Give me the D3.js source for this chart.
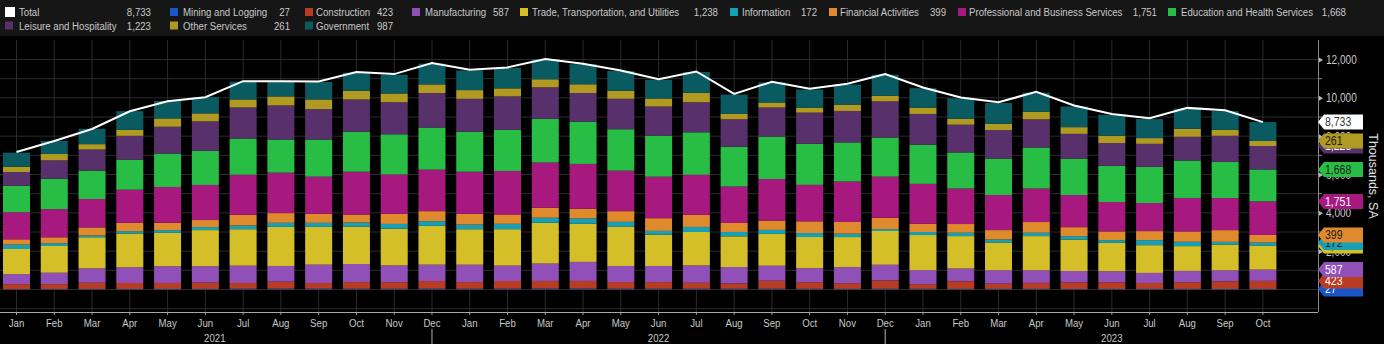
<!DOCTYPE html>
<html>
<head>
<meta charset="utf-8">
<script src="https://cdn.jsdelivr.net/npm/d3@7"></script>
<style>
  html, body { margin: 0; padding: 0; background: #000; }
  svg { display: block; }
</style>
</head>
<body>
<svg id="chart"></svg>
<script>
/* Job openings by industry, stacked monthly bars + total line */

const periods = [
  "2021-01","2021-02","2021-03","2021-04","2021-05","2021-06","2021-07","2021-08","2021-09","2021-10","2021-11","2021-12",
  "2022-01","2022-02","2022-03","2022-04","2022-05","2022-06","2022-07","2022-08","2022-09","2022-10","2022-11","2022-12",
  "2023-01","2023-02","2023-03","2023-04","2023-05","2023-06","2023-07","2023-08","2023-09","2023-10"
]
const monthLabels = ["Jan","Feb","Mar","Apr","May","Jun","Jul","Aug","Sep","Oct","Nov","Dec"]
const yearLabels = ["2021", "2022", "2023"]
const yTicks = [2000, 4000, 6000, 8000, 10000, 12000]

const total = [7172,7748,8376,9301,9824,10034,10871,10871,10854,11343,11238,11814,
  11465,11587,12023,11779,11430,10976,11377,10208,10837,10470,10732,11238,
  10540,10017,9772,10313,9598,9161,8934,9476,9353,8733]

const mining = [18,20,22,25,27,28,40,42,40,38,35,40,38,42,45,45,40,38,36,35,38,33,30,35,33,30,28,30,25,28,27,30,26,27]
const construction = [262,262,330,314,314,332,297,366,297,349,349,401,349,401,401,401,349,349,314,279,419,349,297,436,244,401,279,314,349,349,314,349,401,423]
const manufacturing = [524,593,750,820,873,855,907,820,960,942,873,855,907,803,907,995,838,838,907,855,785,733,838,820,733,663,698,663,593,576,524,593,576,587]
const trade = [1309,1396,1623,1762,1745,1885,1902,2042,1972,1954,1920,2024,1850,1902,2129,1989,2059,1640,1745,1605,1658,1623,1571,1762,1832,1693,1448,1780,1640,1483,1448,1291,1344,1238]
const information = [227,140,95,122,140,157,192,209,209,209,244,244,244,279,262,279,244,192,262,227,209,209,175,95,157,175,157,175,175,140,262,227,140,172]
const financial = [279,314,419,436,384,366,558,506,471,419,524,524,558,489,524,506,558,663,628,471,489,611,611,593,436,454,489,558,471,454,471,541,611,399]
const professional = [1413,1466,1483,1728,1867,1832,2094,2111,1937,2234,2059,2164,2199,2269,2356,2338,2111,2164,2094,1902,2164,1902,2111,2146,2077,1850,1832,1745,1675,1536,1466,1745,1675,1751]
const education = [1379,1588,1483,1571,1745,1780,1885,1728,1937,2094,2094,2199,2094,2146,2286,2199,2164,2146,2216,2077,2216,2146,2042,2042,2042,1885,1902,2146,1902,1885,1885,1954,1885,1668]
const leisure = [715,960,1099,1239,1396,1536,1623,1780,1588,1675,1675,1797,1710,1745,1640,1501,1588,1518,1570,1431,1518,1623,1640,1885,1605,1448,1483,1466,1291,1187,1204,1239,1361,1223]
const otherServices = [279,332,279,314,436,419,419,471,506,454,454,454,454,419,419,454,419,419,489,279,262,262,332,297,332,314,332,401,349,384,297,419,314,261]
const government = [733,680,803,977,907,855,925,768,907,942,977,1082,1030,1065,1030,1047,1030,977,1082,1012,1047,942,1047,1099,1012,1065,1082,995,1082,1099,995,1047,977,987]

const seriesNames = ["Mining and Logging","Construction","Manufacturing","Trade, Transportation, and Utilities",
  "Information","Financial Activities","Professional and Business Services","Education and Health Services",
  "Leisure and Hospitality","Other Services","Government"]
const seriesValues = [mining, construction, manufacturing, trade, information, financial,
  professional, education, leisure, otherServices, government]
const seriesColors = ["#1a56c8","#b83c24","#9050b8","#d5bf28","#17a0b5","#e08a2e",
  "#a8197f","#28bd45","#58306b","#b09a22","#0a5a62"]

const W = 1384, H = 344
const plot = {left: 0, right: 1318, top: 40, bottom: 312}
const FONT = '"Liberation Sans", Arial, sans-serif'
const SQUEEZE = 0.84          // horizontal squeeze to get a narrow face
const textColor = "#c8c8c8"
const gridColor = "#2b2b2b"

const svg = d3.select("#chart").attr("width", W).attr("height", H)
  .style("font-family", FONT)

svg.append("rect").attr("width", W).attr("height", H).attr("fill", "#000")
svg.append("rect").attr("width", W).attr("height", 36).attr("fill", "#161616")

// narrow text helper
function ntext(parent, px, py, str, size, fill, anchor) {
  return parent.append("text")
    .attr("transform", `translate(${px},${py}) scale(${SQUEEZE},1)`)
    .attr("text-anchor", anchor || "start")
    .attr("dominant-baseline", "central")
    .attr("fill", fill)
    .style("font-size", size + "px")
    .text(str)
}

// rows for d3.stack
const table = periods.map((p, i) => {
  const row = {period: p}
  seriesNames.forEach((n, k) => row[n] = seriesValues[k][i])
  return row
})
const stacked = d3.stack().keys(seriesNames)(table)

const step = 37.77
const x = d3.scaleBand()
  .domain(periods)
  .range([16.5 - step / 2, 16.5 - step / 2 + step * periods.length])
  .paddingInner(0.285)
  .paddingOuter(0.1425)
const cx = p => x(p) + x.bandwidth() / 2

const y = d3.scaleLinear().domain([0, 12000]).range([289.5, 59.5])

// grid
const grid = svg.append("g")
grid.selectAll("line.h")
  .data(d3.range(-1000, 13000, 1000).filter(v => y(v) > plot.top + 2 && y(v) < plot.bottom))
  .enter().append("line")
  .attr("x1", plot.left).attr("x2", plot.right)
  .attr("y1", d => y(d)).attr("y2", d => y(d))
  .attr("stroke", gridColor)
grid.selectAll("line.v")
  .data(periods)
  .enter().append("line")
  .attr("x1", cx).attr("x2", cx)
  .attr("y1", plot.top).attr("y2", plot.bottom)
  .attr("stroke", gridColor)

// stacked bars
const layer = svg.append("g").selectAll("g")
  .data(stacked)
  .enter().append("g")
  .attr("fill", (d, i) => seriesColors[i])

layer.selectAll("rect")
  .data(d => d)
  .enter().append("rect")
  .attr("x", d => x(d.data.period))
  .attr("width", x.bandwidth())
  .attr("y", d => y(d[1]))
  .attr("height", d => y(d[0]) - y(d[1]))

// total line
const line = d3.line()
  .x((d, i) => cx(periods[i]))
  .y(d => y(d))

svg.append("path")
  .datum(total)
  .attr("d", line)
  .attr("fill", "none")
  .attr("stroke", "#fff")
  .attr("stroke-width", 2)

// bottom axis
const xAxis = d3.axisBottom(x)
  .tickFormat(d => monthLabels[+d.slice(5) - 1])
  .tickSizeInner(3).tickSizeOuter(0).tickPadding(4)

const gx = svg.append("g")
  .attr("transform", "translate(0," + plot.bottom + ")")
  .call(xAxis)
gx.select(".domain").remove()
gx.selectAll(".tick line").attr("stroke", "#9a9a9a")
gx.selectAll(".tick text")
  .attr("fill", textColor)
  .attr("transform", `scale(${SQUEEZE},1)`)
  .style("font-size", "11.5px").style("font-family", FONT)

svg.append("line")
  .attr("x1", plot.left).attr("x2", plot.right)
  .attr("y1", plot.bottom + 0.5).attr("y2", plot.bottom + 0.5)
  .attr("stroke", "#a8a8a8")

// years, centred over Dec-to-Dec spans
yearLabels.forEach((yr, k) => {
  const left = k === 0 ? cx(periods[0]) - step / 2 : cx(yr - 1 + "-12")
  const right = k === 0 ? cx(yr + "-12") : left + step * 12
  ntext(svg, (left + right) / 2, 338, yr, 11.5, textColor, "middle")
  if (k > 0) {
    svg.append("line")
      .attr("x1", left).attr("x2", left)
      .attr("y1", 329).attr("y2", H)
      .attr("stroke", "#b0b0b0")
  }
})

// right axis
const gy = svg.append("g")
  .attr("transform", "translate(" + plot.right + ",0)")
  .call(d3.axisRight(y).tickValues(yTicks).tickFormat(d3.format(",")).tickSize(0).tickPadding(8 / SQUEEZE))
gy.select(".domain").remove()
gy.selectAll(".tick text")
  .attr("fill", textColor)
  .attr("transform", `scale(${SQUEEZE},1)`)
  .style("font-size", "12px").style("font-family", FONT)
gy.selectAll(".tick").append("path")
  .attr("d", "M0,-3L5,0L0,3Z")
  .attr("fill", "#b8b8b8")

svg.append("line")
  .attr("x1", plot.right + 0.5).attr("x2", plot.right + 0.5)
  .attr("y1", plot.top).attr("y2", plot.bottom)
  .attr("stroke", "#8a8a8a")

svg.append("g").selectAll("line")
  .data(d3.range(1000, 13000, 2000))
  .enter().append("line")
  .attr("x1", plot.right).attr("x2", plot.right + 4)
  .attr("y1", d => y(d)).attr("y2", d => y(d))
  .attr("stroke", "#8a8a8a")

svg.append("text")
  .attr("transform", "translate(1373,176) rotate(90)")
  .attr("text-anchor", "middle")
  .attr("dominant-baseline", "central")
  .attr("fill", "#e0e0e0")
  .style("font-size", "12.5px")
  .text("Thousands, SA")

// value flags at the last bar
const fmt = d3.format(",")
const last = periods.length - 1
function flag(cy, value, fill, ink) {
  const g = svg.append("g")
  g.append("path")
    .attr("d", `M${plot.right},${cy}L${plot.right + 6},${cy - 7.5}L1363,${cy - 7.5}L1363,${cy + 7.5}L${plot.right + 6},${cy + 7.5}Z`)
    .attr("fill", fill)
  ntext(g, 1325, cy, fmt(value), 12.5, ink)
}
stacked.forEach((s, i) => {
  if (i === stacked.length - 1) return
  const c = seriesColors[i]
  flag(y(s[last][1]), seriesValues[i][last], c, d3.lab(c).l > 55 ? "#1c1c1c" : "#ffffff")
})
flag(y(total[last]), total[last], "#ffffff", "#333")

// legend
const legendItems = [{name: "Total", value: total[last], color: "#ffffff"}]
  .concat(seriesNames.map((n, i) => ({name: n, value: seriesValues[i][last], color: seriesColors[i]})))
// [square x, label x, value right edge, row]
const legendSlots = [
  [5, 19, 151, 0], [170, 183, 290, 0], [305, 316, 393, 0], [412, 425, 509, 0],
  [520, 532, 718, 0], [730, 742, 817, 0], [829, 840, 946, 0], [958, 969, 1157, 0],
  [1168, 1181, 1346, 0], [5, 19, 151, 1], [170, 183, 290, 1], [305, 316, 393, 1]
]
legendItems.forEach((it, k) => {
  const [sx, lx, vx, row] = legendSlots[k]
  const cy = row === 0 ? 12 : 25.5
  const big = k === 0
  svg.append("rect")
    .attr("x", sx).attr("y", cy - (big ? 5 : 4))
    .attr("width", big ? 10 : 8).attr("height", big ? 10 : 8)
    .attr("fill", it.color)
  ntext(svg, lx, cy, it.name, 11.5, textColor)
  ntext(svg, vx, cy, fmt(it.value), 11.5, textColor, "end")
})
</script>
</body>
</html>
